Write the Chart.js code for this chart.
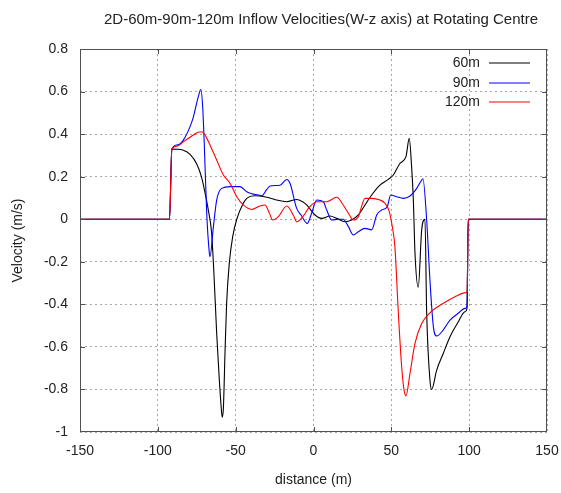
<!DOCTYPE html>
<html>
<head>
<meta charset="utf-8">
<title>Inflow Velocities</title>
<script src="https://cdn.jsdelivr.net/npm/chart.js@4"></script>
<style>
  html, body { margin: 0; padding: 0; background: #fff; }
  #wrap { width: 561px; height: 493px; position: relative; }
</style>
</head>
<body>
<div id="wrap"><canvas id="velChart"></canvas></div>
<script>
// W-z velocity profiles across the rotating centre, one run per height
const seriesNames = ['60m', '90m', '120m'];
const seriesColors = ['#000000', '#0000ff', '#ff0000'];

const dist60 = [-150, -92.5, -91, -84, -79.3, -75, -72, -69.7, -67.5, -65.5, -64, -62.2, -60.5, -59, -58.6, -57.9, -56.8, -55.8, -54.1, -51.9, -49.3, -45.1, -42.9, -38, -34.4, -28, -23.6, -17.2, -10.8, -7, -4.4, 1, 5.3, 10.6, 14.9, 20.2, 24.5, 28.8, 33.1, 37.4, 42.7, 48, 51.3, 55.6, 59.4, 61.5, 63, 64.1, 65.2, 67.3, 69.5, 71.6, 72.7, 74.8, 75.9, 79.1, 83.4, 87.7, 93, 97.3, 98.6, 99.4, 150];
const vel60 = [0, 0, 0.33, 0.325, 0.305, 0.26, 0.2, 0.125, 0.04, -0.06, -0.25, -0.536, -0.756, -0.91, -0.93, -0.89, -0.615, -0.395, -0.207, -0.082, 0, 0.075, 0.098, 0.11, 0.109, 0.1, 0.09, 0.082, 0.093, 0.082, 0.067, 0.02, 0.004, 0.015, 0.004, -0.012, -0.004, 0.02, 0.067, 0.114, 0.16, 0.187, 0.208, 0.263, 0.294, 0.38, 0.25, 0.1, -0.16, -0.32, -0.05, 0, -0.44, -0.755, -0.8, -0.71, -0.63, -0.552, -0.482, -0.435, -0.42, 0, 0];

const dist90 = [-150, -92.5, -91, -87, -83.6, -79.3, -77.2, -74, -72.4, -71.2, -70.1, -68.6, -66.9, -66.5, -64.3, -62.2, -59, -53.6, -47.2, -42.9, -39.7, -35.4, -33.3, -30, -27.9, -21.5, -17.2, -15.1, -10.8, -8, -4, -1.2, 2.1, 6.3, 8.5, 11.7, 15.9, 19.1, 22.4, 25.6, 28.8, 33.1, 37.4, 40.6, 43.8, 47.4, 49.6, 53.4, 57.7, 62, 66.3, 69.5, 70.3, 72.7, 74.8, 77, 79.1, 83.4, 87.7, 93, 97.3, 98.6, 99.4, 150];
const vel90 = [0, 0, 0.33, 0.35, 0.372, 0.435, 0.48, 0.576, 0.61, 0.53, 0.34, 0.028, -0.16, -0.176, -0.035, 0.09, 0.145, 0.153, 0.153, 0.129, 0.12, 0.114, 0.11, 0.14, 0.156, 0.16, 0.187, 0.169, 0.051, 0.02, -0.02, 0.028, 0.09, 0.082, 0.043, -0.004, 0, 0, -0.035, -0.074, -0.059, -0.043, -0.05, 0.02, 0.043, 0.059, 0.114, 0.106, 0.098, 0.109, 0.145, 0.184, 0.19, -0.004, -0.286, -0.505, -0.549, -0.52, -0.474, -0.442, -0.419, -0.41, 0, 0];

const dist120 = [-150, -92.5, -91, -87, -83.6, -77.2, -73.5, -71.4, -68.5, -66.5, -62.2, -57.9, -53.6, -49.3, -45.1, -39.7, -34.4, -31.2, -28.3, -26.2, -22.6, -17.2, -13, -10.8, -6, -3.3, 2.1, 8.5, 14.9, 19.1, 22.4, 25.6, 28.8, 33.1, 37.4, 42.7, 45.9, 48.5, 50.5, 52.3, 54.5, 56.6, 58.1, 59.4, 62, 65.2, 69.5, 74.8, 83.4, 90.9, 97.9, 98.7, 99.4, 150];
const vel120 = [0, 0, 0.33, 0.345, 0.364, 0.396, 0.41, 0.41, 0.38, 0.349, 0.278, 0.208, 0.169, 0.106, 0.067, 0.046, 0.062, 0.067, 0.028, -0.004, 0.012, 0.062, 0.02, -0.012, 0.02, 0.051, 0.082, 0.082, 0.103, 0.067, 0.028, -0.004, 0.012, 0.098, 0.098, 0.09, 0.075, 0.04, -0.03, -0.13, -0.44, -0.69, -0.8, -0.83, -0.724, -0.583, -0.49, -0.44, -0.395, -0.364, -0.345, -0.34, 0, 0];

const xTicks = [-150, -100, -50, 0, 50, 100, 150];
const yTicks = [-1, -0.8, -0.6, -0.4, -0.2, 0, 0.2, 0.4, 0.6, 0.8];

const FONT = '"Liberation Sans", Arial, sans-serif';

function toPoints(xs, ys) {
    return xs.map((x, i) => ({ x: x, y: ys[i] }));
}

// gnuplot-like frame: full border, inward ticks on all four sides, title and legend
const framePlugin = {
    id: 'frame',
    afterDraw(chart) {
        const ctx = chart.ctx;
        const a = chart.chartArea;
        const xs = chart.scales.x, ys = chart.scales.y;
        const tl = 5;

        ctx.save();
        ctx.strokeStyle = '#505050';
        ctx.lineWidth = 1;
        ctx.strokeRect(a.left + 0.5, a.top + 0.5, a.right - a.left - 1, a.bottom - a.top - 1);

        ctx.beginPath();
        xTicks.slice(1, -1).forEach(v => {
            const px = Math.round(xs.getPixelForValue(v)) + 0.5;
            ctx.moveTo(px, a.bottom); ctx.lineTo(px, a.bottom - tl);
            ctx.moveTo(px, a.top); ctx.lineTo(px, a.top + tl);
        });
        yTicks.slice(1, -1).forEach(v => {
            const py = Math.round(ys.getPixelForValue(v)) + 0.5;
            ctx.moveTo(a.left, py); ctx.lineTo(a.left + tl, py);
            ctx.moveTo(a.right, py); ctx.lineTo(a.right - tl, py);
        });
        ctx.stroke();

        // title
        ctx.fillStyle = '#222';
        ctx.font = '15px ' + FONT;
        ctx.textAlign = 'center';
        ctx.textBaseline = 'alphabetic';
        ctx.fillText('2D-60m-90m-120m Inflow Velocities(W-z axis) at Rotating Centre', 321, 24);

        // legend, top right inside the plot
        ctx.font = '14px ' + FONT;
        ctx.textAlign = 'right';
        ctx.textBaseline = 'middle';
        seriesNames.forEach((name, i) => {
            const ly = Math.round(63 + i * 19.7);
            ctx.fillStyle = '#222';
            ctx.fillText(name, 480, ly);
            ctx.lineWidth = 1.2;
            ctx.strokeStyle = seriesColors[i];
            ctx.beginPath();
            ctx.moveTo(489, ly);
            ctx.lineTo(530, ly);
            ctx.stroke();
        });
        ctx.restore();
    }
};

const datasets = [
    { label: seriesNames[0], data: toPoints(dist60, vel60), borderColor: seriesColors[0], order: 3 },
    { label: seriesNames[1], data: toPoints(dist90, vel90), borderColor: seriesColors[1], order: 2 },
    { label: seriesNames[2], data: toPoints(dist120, vel120), borderColor: seriesColors[2], order: 1 }
].map(d => Object.assign(d, {
    borderWidth: 1.1,
    pointRadius: 0,
    fill: false,
    cubicInterpolationMode: 'monotone'
}));

const gridStyle = {
    color: '#a8a8a8',
    lineWidth: 1,
    drawTicks: false
};

new Chart(document.getElementById('velChart'), {
    type: 'line',
    data: { datasets: datasets },
    options: {
        responsive: true,
        maintainAspectRatio: false,
        animation: false,
        layout: { padding: { top: 49, right: 14, left: 0, bottom: 0 } },
        plugins: {
            legend: { display: false },
            tooltip: { enabled: false }
        },
        scales: {
            x: {
                type: 'linear',
                min: -150,
                max: 150,
                afterFit: s => { s.height = 61; s.paddingLeft = 0; s.paddingRight = 0; },
                afterBuildTicks: s => { s.ticks = xTicks.map(v => ({ value: v })); },
                grid: gridStyle,
                border: { display: false, dash: [2, 3] },
                ticks: {
                    padding: 11,
                    color: '#222',
                    font: { family: FONT, size: 14 },
                    maxRotation: 0,
                    callback: v => String(v)
                },
                title: {
                    display: true,
                    text: 'distance (m)',
                    color: '#222',
                    font: { family: FONT, size: 14 },
                    padding: { top: 0, bottom: 4 }
                }
            },
            y: {
                min: -1,
                max: 0.8,
                afterFit: s => { s.width = 80; s.paddingTop = 0; s.paddingBottom = 0; },
                afterBuildTicks: s => { s.ticks = yTicks.map(v => ({ value: v })); },
                grid: gridStyle,
                border: { display: false, dash: [2, 3] },
                ticks: {
                    padding: 12,
                    color: '#222',
                    font: { family: FONT, size: 14 },
                    callback: v => String(Number(v.toFixed(1)))
                },
                title: {
                    display: true,
                    text: 'Velocity (m/s)',
                    color: '#222',
                    font: { family: FONT, size: 14 },
                    padding: { top: 10, bottom: 0 }
                }
            }
        }
    },
    plugins: [framePlugin]
});
</script>
</body>
</html>
